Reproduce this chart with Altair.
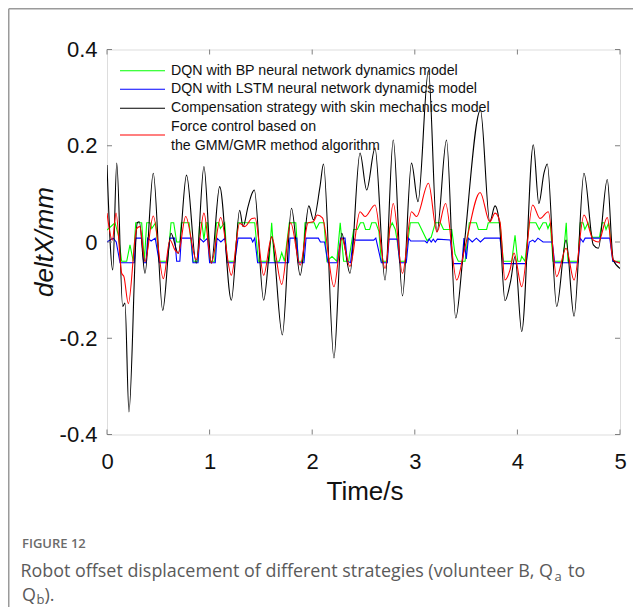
import altair as alt
import pandas as pd

# ---------------- data ----------------
t_green = [0.0, 0.078, 0.11, 0.143, 0.192, 0.224, 0.256, 0.28, 0.338, 0.364, 0.387, 0.42, 0.436, 0.474, 0.507,
           0.591, 0.624, 0.65, 0.679, 0.71, 0.724, 0.8, 0.838, 0.887, 0.903, 0.925, 0.945, 0.965, 0.98, 1.0,
           1.05, 1.066, 1.09, 1.105, 1.147, 1.172, 1.244, 1.277, 1.44, 1.475, 1.58, 1.605, 1.631, 1.68, 1.703,
           1.73, 1.777, 1.84, 1.865, 1.91, 1.93, 2.02, 2.04, 2.07, 2.115, 2.144, 2.193, 2.24, 2.273, 2.306,
           2.355, 2.404, 2.44, 2.47, 2.5, 2.52, 2.56, 2.58, 2.62, 2.65, 2.674, 2.73, 2.75, 2.78, 2.81, 2.83,
           2.853, 2.907, 2.956, 3.035, 3.119, 3.16, 3.2, 3.25, 3.28, 3.36, 3.392, 3.424, 3.49, 3.531, 3.6,
           3.62, 3.7, 3.716, 3.83, 3.863, 3.945, 3.977, 4.003, 4.03, 4.042, 4.074, 4.116, 4.18, 4.213, 4.25,
           4.28, 4.298, 4.32, 4.347, 4.444, 4.476, 4.493, 4.591, 4.613, 4.64, 4.657, 4.688, 4.73, 4.80, 4.825,
           4.845, 4.864, 4.89, 4.93, 5.0]
v_green = [0.025, 0.04, 0.015, -0.04, -0.04, -0.006, -0.04, 0.04, 0.04, -0.04, 0.04, 0.04, 0.028, 0.04, -0.04,
           -0.04, 0.04, 0.04, 0.0, 0.0, 0.04, 0.04, -0.04, -0.04, 0.04, 0.04, 0.005, 0.04, 0.04, -0.04,
           -0.04, 0.04, 0.04, 0.028, 0.04, -0.04, -0.04, 0.04, 0.04, -0.04, -0.04, 0.04, -0.04, -0.04, -0.022,
           -0.04, 0.04, 0.04, -0.04, -0.04, 0.04, 0.04, 0.028, 0.04, 0.04, -0.04, -0.03, -0.04, 0.04, -0.04,
           -0.04, 0.026, 0.026, 0.04, 0.04, 0.026, 0.026, 0.04, 0.04, 0.022, -0.04, -0.04, 0.026, 0.04, 0.026, 0.0,
           -0.04, -0.04, 0.04, 0.04, 0.003, 0.01, 0.04, 0.04, 0.026, 0.026, -0.025, -0.04, -0.04, 0.04, 0.04,
           0.026, 0.026, 0.04, 0.04, -0.04, -0.04, 0.014, -0.04, -0.04, -0.03, -0.04, 0.04, 0.04, 0.026, 0.04,
           0.04, 0.028, 0.04, -0.04, -0.04, 0.04, -0.04, -0.04, 0.04, 0.04, 0.026, 0.04, 0.01, 0.01, 0.04,
           0.04, 0.026, 0.04, -0.04, -0.04]

t_blue = [0.0, 0.061, 0.09, 0.127, 0.266, 0.28, 0.338, 0.358, 0.38, 0.396, 0.43, 0.47, 0.51, 0.582, 0.614,
          0.66, 0.679, 0.71, 0.724, 0.82, 0.838, 0.887, 0.903, 0.94, 0.98, 1.0, 1.055, 1.072, 1.11, 1.15,
          1.172, 1.244, 1.277, 1.404, 1.42, 1.44, 1.468, 1.77, 1.783, 1.85, 1.865, 1.92, 1.94, 2.06, 2.08,
          2.12, 2.154, 2.245, 2.278, 2.32, 2.342, 2.374, 2.4, 2.42, 2.60, 2.62, 2.674, 2.732, 2.749, 2.83,
          2.853, 2.917, 2.94, 2.96, 3.1, 3.119, 3.14, 3.16, 3.18, 3.2, 3.22, 3.346, 3.372, 3.46, 3.479,
          3.502, 3.522, 3.56, 3.6, 3.64, 3.68, 3.83, 3.863, 4.084, 4.116, 4.15, 4.17, 4.2, 4.25, 4.34,
          4.363, 4.591, 4.613, 4.64, 4.66, 4.9, 4.93, 5.0]
v_blue = [0.0, 0.008, 0.0, -0.043, -0.043, 0.008, 0.008, -0.043, -0.043, 0.008, 0.002, 0.008, -0.043, -0.043, 0.008,
          0.008, -0.04, -0.04, 0.008, 0.008, -0.043, -0.043, 0.008, 0.0, 0.008, -0.043, -0.043, 0.008, 0.0, 0.008,
          -0.043, -0.043, 0.008, 0.008, 0.0, 0.008, -0.043, -0.043, 0.008, 0.008, -0.043, -0.043, 0.008, 0.008, 0.0,
          0.0, -0.043, -0.043, 0.008, 0.008, -0.04, -0.043, 0.008, 0.004, 0.004, 0.008, -0.043, -0.043, 0.006, 0.006,
          -0.043, -0.043, 0.008, 0.002, 0.002, -0.002, 0.006, 0.0, 0.006, 0.0, 0.006, 0.004, -0.045, -0.045, 0.008,
          -0.035, 0.008, 0.0, 0.008, 0.0, 0.008, 0.008, -0.045, -0.045, 0.0, 0.004, 0.0, 0.008, 0.0, 0.0,
          -0.043, -0.043, 0.008, 0.0, 0.008, 0.008, -0.04, -0.043]

t_black = [0.0, 0.056, 0.095, 0.153, 0.175, 0.214, 0.295, 0.315, 0.370, 0.451, 0.543, 0.624, 0.695, 0.775,
           0.870, 0.945, 1.017, 1.098, 1.212, 1.293, 1.326, 1.374, 1.413, 1.436, 1.527, 1.605, 1.709, 1.798,
           1.883, 1.967, 2.013, 2.076, 2.110, 2.212, 2.288, 2.368, 2.466, 2.531, 2.612, 2.710, 2.790, 2.880,
           2.968, 3.031, 3.133, 3.216, 3.309, 3.399, 3.47, 3.640, 3.731, 3.782, 3.823, 3.879, 3.936, 3.977,
           4.042, 4.155, 4.209, 4.259, 4.291, 4.383, 4.474, 4.552, 4.649, 4.740, 4.789, 4.876, 4.934, 5.0]
v_black = [0.16, -0.058, 0.164, -0.134, -0.127, -0.353, 0.04, 0.042, -0.065, 0.143, -0.142, 0.018, -0.024, 0.139,
           -0.044, 0.157, -0.044, 0.115, -0.121, 0.066, 0.032, 0.073, 0.101, 0.108, -0.121, 0.011, -0.193, 0.07,
           -0.069, 0.075, 0.046, 0.115, 0.162, -0.241, 0.018, -0.065, 0.185, 0.108, 0.195, -0.079, 0.212, -0.112,
           0.164, 0.084, 0.356, 0.021, 0.212, -0.158, -0.03, 0.274, 0.042, 0.075, 0.042, -0.122, -0.079, -0.03,
           -0.186, 0.202, 0.08, 0.143, 0.162, -0.134, 0.004, -0.154, 0.143, -0.006, -0.013, 0.130, -0.037, -0.055]

t_red = [0.0, 0.052, 0.088, 0.143, 0.165, 0.208, 0.289, 0.32, 0.37, 0.451, 0.549, 0.614, 0.663, 0.695, 0.767,
         0.870, 0.945, 1.017, 1.108, 1.212, 1.293, 1.342, 1.413, 1.443, 1.527, 1.605, 1.703, 1.79, 1.883, 1.96,
         2.01, 2.05, 2.10, 2.212, 2.288, 2.368, 2.466, 2.515, 2.612, 2.710, 2.790, 2.880, 2.968, 3.017, 3.133,
         3.216, 3.30, 3.408, 3.49, 3.637, 3.731, 3.782, 3.83, 3.879, 3.928, 3.967, 4.042, 4.149, 4.220, 4.301,
         4.383, 4.474, 4.552, 4.649, 4.74, 4.79, 4.876, 4.934, 5.0]
v_red = [0.06, 0.004, 0.06, -0.065, -0.072, -0.128, 0.028, 0.032, -0.041, 0.054, -0.076, 0.004, -0.017, -0.023, 0.053,
         -0.037, 0.06, -0.044, 0.051, -0.069, 0.039, 0.032, 0.049, 0.05, -0.069, 0.011, -0.088, 0.04, -0.048, 0.04,
         0.042, 0.056, 0.05, -0.093, 0.008, -0.051, 0.063, 0.053, 0.077, -0.055, 0.08, -0.065, 0.063, 0.053, 0.122,
         0.021, 0.08, -0.079, -0.01, 0.103, 0.042, 0.06, 0.042, -0.079, -0.058, -0.023, -0.093, 0.077, 0.049, 0.063,
         -0.072, -0.013, -0.079, 0.056, 0.004, 0.0, 0.051, -0.037, -0.044]

series_names = ["DQN with BP neural network dynamics model",
                "DQN with LSTM neural network dynamics model",
                "Compensation strategy with skin mechanics model",
                "Force control based on",
                "the GMM/GMR method algorithm"]
series_colors = ["#00ff00", "#0000ff", "#000000", "#ff0000"]

x_ticks = [0, 1, 2, 3, 4, 5]
y_ticks = [-0.4, -0.2, 0, 0.2, 0.4]

x_title = "Time/s"
y_title = "deltX/mm"
fig_label = "FIGURE 12"
caption_1 = "Robot offset displacement of different strategies (volunteer B, Q"
caption_sub_a = "a"
caption_to = "to"
caption_q = "Q"
caption_sub_b = "b"
caption_end = ")."

# ---------------- layout ----------------
W, H = 513, 385
PL, PT = 99, 41.5

xs = alt.Scale(domain=[0, 5], nice=False, zero=False)
ys = alt.Scale(domain=[-0.4, 0.4], nice=False, zero=False)

x_axis = alt.Axis(values=x_ticks, tickSize=0, domain=False, grid=False, title=None,
                  labelFont="Liberation Sans", labelFontSize=22, labelColor="#111",
                  labelPadding=17, labelFlush=False, labelOverlap=False, format="d")
y_axis = alt.Axis(values=y_ticks, tickSize=0, domain=False, grid=False, title=None,
                  labelFont="Liberation Sans", labelFontSize=22, labelColor="#111",
                  labelPadding=10, labelFlush=False, labelOverlap=False,
                  labelExpr="datum.value == 0 ? '0' : (datum.value < 0 ? '-' : '') + format(abs(datum.value), '.1f')")

X = alt.X("t:Q", scale=xs, axis=x_axis)
Y = alt.Y("v:Q", scale=ys, axis=y_axis)

layers = []

def series(t, v, color, interp):
    df = pd.DataFrame({"t": t, "v": v})
    return alt.Chart(df).mark_line(color=color, strokeWidth=1.1, interpolate=interp, clip=True).encode(x=X, y=Y)

layers.append(series(t_green, v_green, series_colors[0], "linear"))
layers.append(series(t_blue, v_blue, series_colors[1], "linear"))
layers.append(series(t_black, v_black, series_colors[2], "monotone"))
layers.append(series(t_red, v_red, series_colors[3], "monotone"))

# inward ticks on all four sides
xt = pd.DataFrame({"t": x_ticks})
yt = pd.DataFrame({"v": y_ticks})
tick_color = "#808080"
layers.append(alt.Chart(xt).mark_rule(color=tick_color, strokeWidth=1).encode(
    x=X, y=alt.value(H), y2=alt.value(H - 5)))
layers.append(alt.Chart(xt).mark_rule(color=tick_color, strokeWidth=1).encode(
    x=X, y=alt.value(0), y2=alt.value(5)))
layers.append(alt.Chart(yt).mark_rule(color=tick_color, strokeWidth=1).encode(
    y=Y, x=alt.value(0), x2=alt.value(5)))
layers.append(alt.Chart(yt).mark_rule(color=tick_color, strokeWidth=1).encode(
    y=Y, x=alt.value(W - 5), x2=alt.value(W)))

# legend (inside plot, no box)
leg_line_y = [21.2, 39.8, 58.8, 85.5]
leg_text_y = [21.2, 39.8, 58.8, 77.2, 96.5]
for i in range(4):
    d = pd.DataFrame({"name": [series_names[i]]})
    layers.append(alt.Chart(d).mark_rule(color=series_colors[i], strokeWidth=1.1).encode(
        x=alt.value(13), x2=alt.value(58), y=alt.value(leg_line_y[i])))
for i in range(5):
    d = pd.DataFrame({"name": [series_names[i]]})
    layers.append(alt.Chart(d).mark_text(align="left", baseline="middle", font="Liberation Sans",
                                         fontSize=14.2, color="#111").encode(
        x=alt.value(64), y=alt.value(leg_text_y[i]), text="name:N"))

def label(txt, x, y, **kw):
    d = pd.DataFrame({"s": [txt]})
    return alt.Chart(d).mark_text(**kw).encode(x=alt.value(x), y=alt.value(y), text="s:N")

# axis titles
layers.append(label(y_title, -62, 192.5, font="Liberation Sans", fontSize=26, fontStyle="italic",
                    angle=270, align="center", baseline="middle", color="#111"))
layers.append(label(x_title, 258, 442.5, font="Liberation Sans", fontSize=26,
                    align="center", baseline="middle", color="#111"))

# caption
cap_font = "Open Sans"
cap_size = 17.9
layers.append(label(fig_label, -85, 494, font=cap_font, fontSize=13, fontWeight=600,
                    align="left", baseline="middle", color="#6b6b6b"))
# first line: main text right-aligned so that the subscript follows "Q" directly
layers.append(label(caption_1, 446, 522.5, font=cap_font, fontSize=cap_size,
                    align="right", baseline="middle", color="#5a5a5a"))
layers.append(label(caption_sub_a, 447.5, 527.5, font=cap_font, fontSize=13,
                    align="left", baseline="middle", color="#5a5a5a"))
layers.append(label(caption_to, 461, 522.5, font=cap_font, fontSize=cap_size,
                    align="left", baseline="middle", color="#5a5a5a"))
layers.append(label(caption_q, -85, 546, font=cap_font, fontSize=cap_size,
                    align="left", baseline="middle", color="#5a5a5a"))
layers.append(label(caption_sub_b, -70.5, 550.5, font=cap_font, fontSize=13,
                    align="left", baseline="middle", color="#5a5a5a"))
layers.append(label(caption_end, -62.5, 546, font=cap_font, fontSize=cap_size,
                    align="left", baseline="middle", color="#5a5a5a"))

# card border (top and left edges)
bd = pd.DataFrame({"k": [1]})
layers.append(alt.Chart(bd).mark_rule(color="#9a9a9a", strokeWidth=1.5).encode(
    x=alt.value(-PL + 0.75), x2=alt.value(W + 20), y=alt.value(-PT + 0.75)))
layers.append(alt.Chart(bd).mark_rule(color="#9a9a9a", strokeWidth=1.5).encode(
    x=alt.value(-PL + 0.75), y=alt.value(-PT + 0.75), y2=alt.value(H + 180)))

chart = alt.layer(*layers).properties(
    width=W, height=H,
    padding={"left": PL, "top": PT, "right": 13, "bottom": 172.5},
    autosize=alt.AutoSizeParams(type="none"),
).configure_view(stroke="#808080", strokeWidth=1.2).configure(background="white")

chart.save("out.html", embed_options={"renderer": "svg", "actions": False})
